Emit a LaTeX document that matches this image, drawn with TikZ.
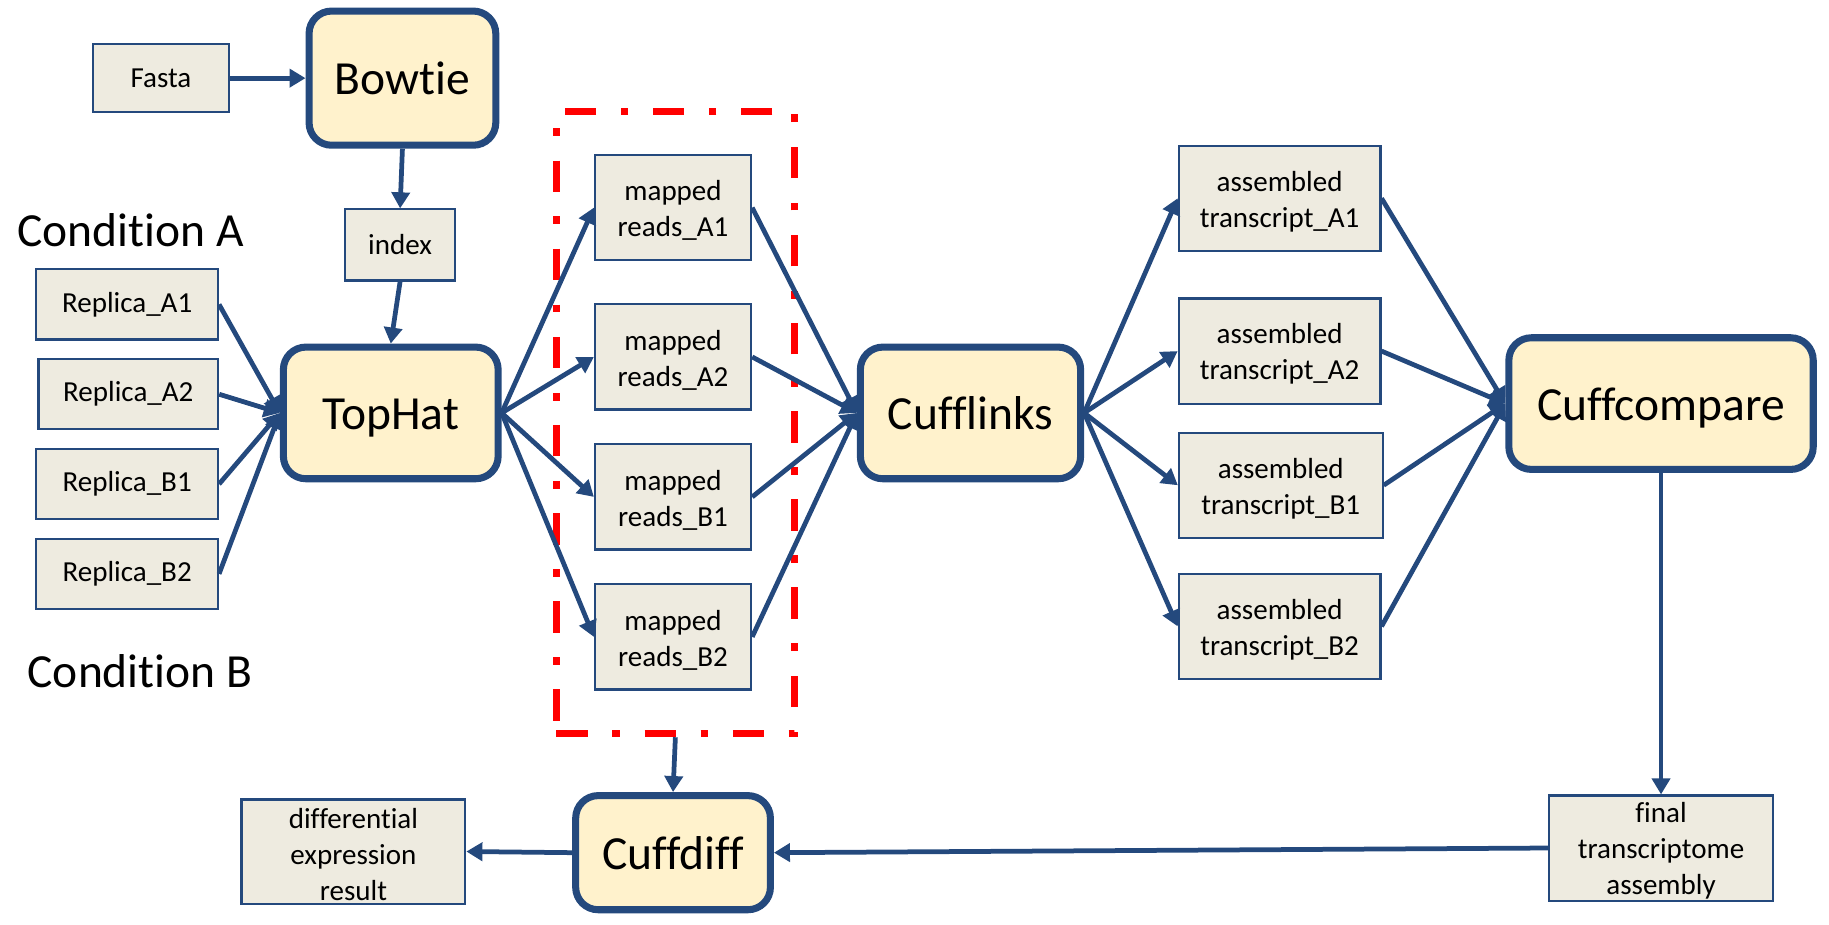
\documentclass[tikz,border=0pt]{standalone}
\usepackage{fontspec}
\setmainfont{Carlito}[Ligatures=NoCommon]
\usetikzlibrary{arrows.meta}

\definecolor{boxblue}{RGB}{36,73,125}
\definecolor{boxfill}{RGB}{238,235,224}
\definecolor{toolfill}{RGB}{255,242,204}
\newcommand{\topstrut}{\rule{0pt}{15pt}}

\begin{document}
\begin{tikzpicture}[x=0.0233cm,y=-0.0233cm,
  file/.style={draw=boxblue,fill=boxfill,line width=1.2pt,inner sep=0pt,align=center,
    font=\fontsize{16.5}{20.5}\selectfont},
  tool/.style={draw=boxblue,fill=toolfill,line width=4pt,rounded corners=0.45cm,inner sep=0pt,
    text height=24pt,text depth=5pt,font=\fontsize{27}{32}\selectfont},
  flow/.style={draw=boxblue,line width=2.7pt,-{Triangle[length=0.32cm,width=0.36cm]}}]
\useasboundingbox (0,0) rectangle (1568,793);

% inputs
\node[file,minimum width=2.73cm,minimum height=1.37cm] (fasta) at (138,67) {Fasta};
\node[tool,minimum width=3.73cm,minimum height=2.68cm] (bowtie) at (345,67) {Bowtie};
\node[file,minimum width=2.21cm,minimum height=1.42cm] (index) at (343,210) {index};

\node[font=\fontsize{27}{32}\selectfont] (condA) at (112,197) {Condition A};
\node[font=\fontsize{27}{32}\selectfont] (condB) at (120,575) {Condition B};

\node[file,minimum width=3.63cm,minimum height=1.40cm] (repA1) at (109,261) {Replica\_A1};
\node[file,minimum width=3.59cm,minimum height=1.40cm] (repA2) at (110,338) {Replica\_A2};
\node[file,minimum width=3.63cm,minimum height=1.40cm] (repB1) at (109,415) {Replica\_B1};
\node[file,minimum width=3.63cm,minimum height=1.40cm] (repB2) at (109,492) {Replica\_B2};

\node[tool,minimum width=4.29cm,minimum height=2.63cm] (tophat) at (335,354) {TopHat};

% mapped reads
\node[draw=red,line width=4pt,dash pattern=on 17.9pt off 13.9pt on 4.4pt off 13.9pt,
  minimum width=4.75cm,minimum height=12.42cm] (mapped) at (579,362.5) {};
\node[file,minimum width=3.12cm,minimum height=2.10cm] (mapA1) at (577,178) {\topstrut mapped\\reads\_A1};
\node[file,minimum width=3.12cm,minimum height=2.10cm] (mapA2) at (577,306) {\topstrut mapped\\reads\_A2};
\node[file,minimum width=3.12cm,minimum height=2.10cm] (mapB1) at (577,426) {\topstrut mapped\\reads\_B1};
\node[file,minimum width=3.12cm,minimum height=2.10cm] (mapB2) at (577,546) {\topstrut mapped\\reads\_B2};

\node[tool,minimum width=4.40cm,minimum height=2.63cm] (cufflinks) at (832,354) {Cufflinks};

% assembled transcripts
\node[file,minimum width=4.03cm,minimum height=2.10cm] (asmA1) at (1097,170) {\topstrut assembled\\transcript\_A1};
\node[file,minimum width=4.03cm,minimum height=2.10cm] (asmA2) at (1097,301) {\topstrut assembled\\transcript\_A2};
\node[file,minimum width=4.07cm,minimum height=2.10cm] (asmB1) at (1098,416) {\topstrut assembled\\transcript\_B1};
\node[file,minimum width=4.03cm,minimum height=2.10cm] (asmB2) at (1097,537) {\topstrut assembled\\transcript\_B2};

\node[tool,minimum width=6.08cm,minimum height=2.63cm] (cuffcompare) at (1424,346) {Cuffcompare};
\node[file,minimum width=4.47cm,minimum height=2.10cm] (final) at (1424,727) {\topstrut final\\transcriptome\\assembly};
\node[tool,minimum width=3.89cm,minimum height=2.28cm] (cuffdiff) at (577,731) {Cuffdiff};
\node[file,minimum width=4.47cm,minimum height=2.08cm] (diff) at (303,730) {\topstrut differential\\expression\\result};

% connectors
\draw[flow] (fasta) -- (bowtie);
\draw[flow] (bowtie.south) -- (index.north);
\draw[flow] (index.south) -- (tophat.north);
\foreach \r in {repA1,repA2,repB1,repB2}
  \draw[flow] (\r.east) -- (tophat.west);
\foreach \m in {mapA1,mapA2,mapB1,mapB2}{
  \draw[flow] (tophat.east) -- (\m.west);
  \draw[flow] (\m.east) -- (cufflinks.west);
}
\foreach \a in {asmA1,asmA2,asmB1,asmB2}{
  \draw[flow] (cufflinks.east) -- (\a.west);
  \draw[flow] (\a.east) -- (cuffcompare.west);
}
\draw[flow] (cuffcompare.south) -- (final.north);
\draw[flow] (final.west) -- (cuffdiff.east);
\draw[flow] (cuffdiff.west) -- (diff.east);
\draw[flow] (mapped.south) -- (cuffdiff.north);
\end{tikzpicture}
\end{document}
